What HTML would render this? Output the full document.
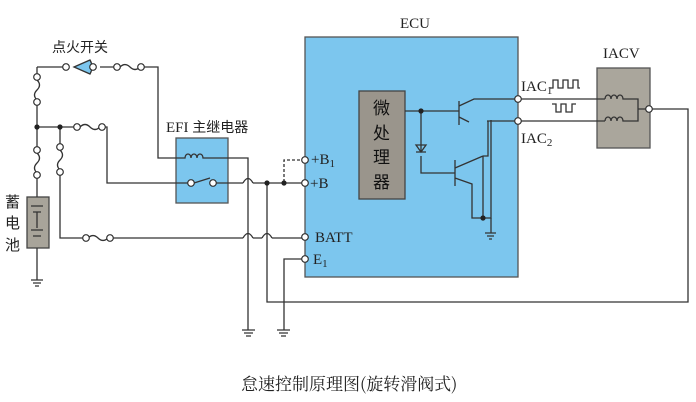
<!DOCTYPE html>
<html><head><meta charset="utf-8"><style>
html,body{margin:0;padding:0;background:#fff;}
svg{display:block;font-family:"Liberation Serif","Noto Serif CJK SC",serif;}
</style></head><body>
<svg width="696" height="402" viewBox="0 0 696 402" xmlns="http://www.w3.org/2000/svg">
<g fill="none" stroke="#333" stroke-width="1.3">
<rect x="305" y="37" width="213" height="240" fill="#7cc6ee" stroke="#555"/>
<rect x="359" y="91" width="46" height="108" fill="#9a958c" stroke="#444"/>
<rect x="597" y="68" width="53" height="80" fill="#aaa69c" stroke="#555"/>
<rect x="176" y="138" width="52" height="65" fill="#7cc6ee" stroke="#555"/>
<rect x="27" y="197" width="22" height="51" fill="#a8a49a" stroke="#444"/>
<path d="M37 67 H66 M100 67 H116 M140 67 H158 V158 H183 M207 158 H248 V330"/>
<path d="M37 67 V77 M37 102 V150 M37 175 V197 M37 248 V280"/>
<path d="M37 127 H77 M102 127 H107 V183 H191 M211 183 H243 M253 183 H305"/>
<path d="M60 127 V147 M60 172 V238 H85 M110 238 H243 M253 238 H262 M272 238 H305"/>
<path d="M267 183 V302 H688 V109 H650"/>
<path d="M305 259 H284 V330"/>
<path d="M305 160 H284 V183" stroke-dasharray="3,2"/>
<path d="M243 183 Q248 174 253 183 M243 238 Q248 229 253 238 M262 238 Q267 229 272 238" />
<path d="M37 80 q5 5 0 10 q-5 5 0 10"/>
<path d="M37 153 q5 5 0 10 q-5 5 0 10"/>
<path d="M60 150 q5 5 0 10 q-5 5 0 10"/>
<path d="M80 127 q5 -5 10 0 q5 5 10 0"/>
<path d="M120 67 q5 -5 10 0 q5 5 10 0"/>
<path d="M88 238 q5 -5 10 0 q5 5 10 0"/>
<path d="M183 158 h2 a3 4 0 0 1 6 0 a3 4 0 0 1 6 0 a3 4 0 0 1 6 0 h4"/>
<path d="M194 183 L210 178"/>
<path d="M74 67 L90 60 Q94 67 90 74 Z" fill="#7cc6ee"/>
<path d="M31 206 H43 M33 212 H41 M37 212 V228 M31 230 H43 M33 236 H41"/>
<path d="M31 280 H43 M33 283 H41 M35 286 H39"/>
<path d="M242 330 H255 M244 333 H253 M246 336 H251"/>
<path d="M277 330 H290 M279 333 H288 M281 336 H286"/>
<path d="M485 233 H496 M487 236 H494 M489 239 H492"/>
<path d="M405 111 H459 M421 111 V152 M421 156 V173 H455"/>
<path d="M416 145 H426 L421 152 Z M416 152 H426"/>
<path d="M459 101 V125 M459 106 L474 99 H518 M459 117 L469 122"/>
<path d="M455 160 V186 M455 168 L483 156 M455 178 L472 184 V218 H491 V120 M483 156 L483 218 M488 121 V156 H483 M487 121 H518"/>
<path d="M491 218 V233"/>
<path d="M518 99 H605 M518 121 H605 M628 99 H638 V109 M628 121 H638 V109 H650"/>
<path d="M605 99 a3 4 0 0 1 6 0 a3 4 0 0 1 6 0 a3 4 0 0 1 6 0 h5 M605 121 a3 4 0 0 1 6 0 a3 4 0 0 1 6 0 a3 4 0 0 1 6 0 h5"/>
<path d="M550 88 H553 V80 H558 V88 H563 V80 H568 V88 H573 V80 H578 V88 H580"/>
<path d="M552 104 H556 V112 H561 V104 H566 V112 H572 V104 H576"/>
</g>
<g fill="#222">
<circle cx="37" cy="127" r="2.6"/><circle cx="60" cy="127" r="2.6"/>
<circle cx="267" cy="183" r="2.6"/><circle cx="284" cy="183" r="2.6"/>
<circle cx="421" cy="111" r="2.6"/><circle cx="483" cy="218" r="2.6"/>
</g>
<g fill="#fff" stroke="#333" stroke-width="1.2">
<circle cx="37" cy="77" r="3.3"/><circle cx="37" cy="102" r="3.3"/>
<circle cx="37" cy="150" r="3.3"/><circle cx="37" cy="175" r="3.3"/>
<circle cx="60" cy="147" r="3.3"/><circle cx="60" cy="172" r="3.3"/>
<circle cx="77" cy="127" r="3.3"/><circle cx="102" cy="127" r="3.3"/>
<circle cx="66" cy="67" r="3.3"/><circle cx="93" cy="67" r="3.3"/>
<circle cx="117" cy="67" r="3.3"/><circle cx="141" cy="67" r="3.3"/>
<circle cx="86" cy="238" r="3.3"/><circle cx="110" cy="238" r="3.3"/>
<circle cx="191" cy="183" r="3.3"/><circle cx="213" cy="183" r="3.3"/>
<circle cx="305" cy="160" r="3.3"/><circle cx="305" cy="183" r="3.3"/>
<circle cx="305" cy="237" r="3.3"/><circle cx="305" cy="259" r="3.3"/>
<circle cx="518" cy="99" r="3.3"/><circle cx="518" cy="121" r="3.3"/>
<circle cx="649" cy="109" r="3.3"/>
</g>
<g fill="#222" font-size="15">
<text x="52" y="52" font-family="Liberation Sans,Noto Sans CJK SC,sans-serif" font-size="14">点火开关</text>
<text x="166" y="132" font-size="15">EFI <tspan font-family="Noto Sans CJK SC,sans-serif" font-size="14">主继电器</tspan></text>
<text x="5" y="207" font-size="15" font-family="Noto Sans CJK SC,sans-serif">蓄</text>
<text x="5" y="228" font-size="15" font-family="Noto Sans CJK SC,sans-serif">电</text>
<text x="5" y="250" font-size="15" font-family="Noto Sans CJK SC,sans-serif">池</text>
<text x="400" y="28">ECU</text>
<text x="603" y="58">IACV</text>
<text x="521" y="91">IAC<tspan font-size="11" dy="3">1</tspan></text>
<text x="521" y="143">IAC<tspan font-size="11" dy="3">2</tspan></text>
<text x="311" y="164">+B<tspan font-size="11" dy="3">1</tspan></text>
<text x="310" y="188">+B</text>
<text x="315" y="242">BATT</text>
<text x="313" y="264">E<tspan font-size="11" dy="3">1</tspan></text>
<g font-family="Noto Sans CJK SC,sans-serif" font-size="17" fill="#111">
<text x="373" y="114">微</text><text x="373" y="139">处</text><text x="373" y="163">理</text><text x="373" y="188">器</text>
</g>
<text x="241" y="390" font-family="Noto Serif CJK SC,serif" font-size="17">怠速控制原理图(旋转滑阀式)</text>
</g>
</svg>
</body></html>
